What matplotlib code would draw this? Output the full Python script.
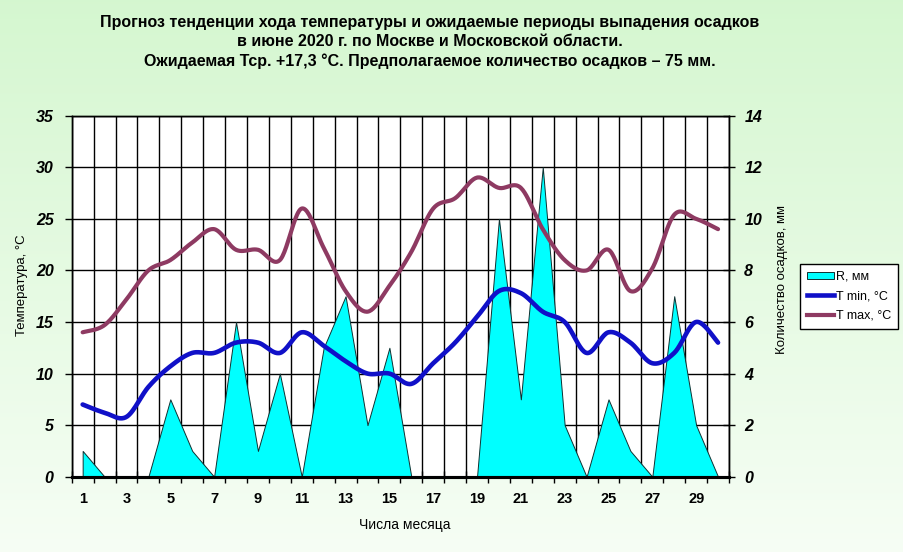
import numpy as np
import matplotlib
matplotlib.use("Agg")
import matplotlib.pyplot as plt
from matplotlib.lines import Line2D
from matplotlib.patches import Patch

# ---------------- data ----------------
days = list(range(1, 31))
precip_mm = [1, 0, 0, 0, 3, 1, 0, 6, 1, 4, 0, 5, 7, 2, 5, 0, 0, 0, 0, 10,
             3, 12, 2, 0, 3, 1, 0, 7, 2, 0]
t_min = [7, 6.2, 5.8, 8.7, 10.7, 12, 12, 13, 13, 12, 14, 12.7, 11.2, 10, 10,
         9, 11, 13, 15.5, 18, 17.8, 16, 15, 12, 14, 13, 11, 12, 15, 13]
t_max = [14, 14.7, 17.2, 20, 21, 22.7, 24, 22, 22, 21, 26, 22.2, 18, 16, 18.5,
         21.8, 26, 27, 29, 28, 28, 24, 21, 20, 22, 18, 20.2, 25.4, 25, 24]
x_label_days = list(range(1, 30, 2))
temp_ticks = list(range(0, 36, 5))
precip_ticks = list(range(0, 15, 2))

title_text = ("Прогноз тенденции хода температуры и ожидаемые периоды выпадения осадков\n"
              "в июне 2020 г. по Москве и Московской области.\n"
              "Ожидаемая Тср. +17,3 °С. Предполагаемое количество осадков – 75 мм.")
legend_labels = ["R, мм", "T min, °C", "T max, °C"]

NARROW = ["Liberation Sans Narrow", "Liberation Sans", "DejaVu Sans"]
ARIAL = ["Liberation Sans", "DejaVu Sans"]


def smooth(x, y, n=24):
    """Excel-like smoothed line (Bezier / Catmull-Rom through the points)."""
    x = np.asarray(x, float)
    y = np.asarray(y, float)
    px = np.concatenate([[x[0]], x, [x[-1]]])
    py = np.concatenate([[y[0]], y, [y[-1]]])
    xs, ys = [], []
    t = np.linspace(0, 1, n, endpoint=False)
    for i in range(1, len(px) - 2):
        p0 = np.array([px[i], py[i]])
        p3 = np.array([px[i + 1], py[i + 1]])
        p1 = p0 + (np.array([px[i + 1], py[i + 1]]) - np.array([px[i - 1], py[i - 1]])) / 6
        p2 = p3 - (np.array([px[i + 2], py[i + 2]]) - np.array([px[i], py[i]])) / 6
        b = ((1 - t) ** 3)[:, None] * p0 + (3 * (1 - t) ** 2 * t)[:, None] * p1 \
            + (3 * (1 - t) * t ** 2)[:, None] * p2 + (t ** 3)[:, None] * p3
        xs.extend(b[:, 0]); ys.extend(b[:, 1])
    xs.append(x[-1]); ys.append(y[-1])
    return np.array(xs), np.array(ys)


W, H = 904, 552
fig = plt.figure(figsize=(W / 100, H / 100), dpi=100)

# background gradient
bg = fig.add_axes([0, 0, 1, 1], zorder=-10)
grad = np.linspace(0, 1, 256)[:, None]
top = np.array([0.835, 0.968, 0.815])
bot = np.array([0.965, 0.995, 0.960])
img = top[None, None, :] * (1 - grad[..., None]) + bot[None, None, :] * grad[..., None]
img = np.repeat(img, 2, axis=1)
bg.imshow(img, aspect="auto", extent=[0, 1, 0, 1], origin="upper")
bg.set_axis_off()

L, R_, T_, B_ = 71.7, 729.0, 115.7, 476.7
rect = [L / W, 1 - B_ / H, (R_ - L) / W, (B_ - T_) / H]

# precipitation axes (bottom layer: grid + area)
axr = fig.add_axes(rect)
axr.set_facecolor("white")
axr.set_xlim(0.5, 30.5)
axr.set_ylim(0, 14)
axr.set_axisbelow(True)
axr.fill_between(days, precip_mm, 0, color="#00FFFF", edgecolor="#103030",
                 linewidth=0.7, zorder=2)

# temperature axes (top layer: lines)
axt = axr.twinx()
axt.set_ylim(0, 35)
axt.set_xlim(0.5, 30.5)
xs, ys = smooth(days, t_min)
axt.plot(xs, ys, color="#1010C8", lw=3.3, solid_capstyle="round", zorder=3)
xs, ys = smooth(days, t_max)
axt.plot(xs, ys, color="#8E3A62", lw=3.0, solid_capstyle="round", zorder=3)

# axis sides
axt.yaxis.set_ticks_position("left")
axt.yaxis.set_label_position("left")
axr.yaxis.set_ticks_position("right")
axr.yaxis.set_label_position("right")

# grid
axr.set_xticks([d + 0.5 for d in range(0, 31)], minor=True)
axr.set_xticks(x_label_days)
axr.set_xticklabels([str(d) for d in x_label_days], fontfamily=NARROW,
                    fontweight="bold", fontsize=10.5)
axr.tick_params(axis="x", which="major", length=0, pad=11)
axr.tick_params(axis="x", which="minor", length=8, width=1, direction="inout",
                color="black")
axr.grid(True, which="minor", axis="x", color="black", lw=1.0)
axr.set_yticks(precip_ticks)
axr.grid(True, which="major", axis="y", color="black", lw=1.0)
axr.set_yticklabels([str(v) for v in precip_ticks], fontfamily=ARIAL,
                    fontweight="bold", fontstyle="italic", fontsize=11.5)
axr.tick_params(axis="y", length=8, width=1, direction="inout", pad=7)

axt.set_yticks(temp_ticks)
axt.set_yticklabels([str(v) for v in temp_ticks], fontfamily=ARIAL,
                    fontweight="bold", fontstyle="italic", fontsize=11.5)
axt.tick_params(axis="y", length=5, width=1, direction="out", pad=8)

for ax in (axr, axt):
    for s in ax.spines.values():
        s.set_color("black")
        s.set_linewidth(1.0)
axr.spines["bottom"].set_linewidth(2.2)
axt.spines["bottom"].set_linewidth(2.2)

# labels
fig.text(430 / W, 1 - 42 / H, title_text, ha="center", va="center",
         fontfamily=NARROW, fontweight="bold", fontsize=11.5, linespacing=1.33)
fig.text(22 / W, 1 - 285 / H, "Температура, °С", rotation=90, ha="center",
         va="center", fontfamily=ARIAL, fontsize=9.5)
fig.text(782 / W, 1 - 280 / H, "Количество осадков, мм", rotation=90,
         ha="center", va="center", fontfamily=ARIAL, fontsize=9.5)
fig.text(405 / W, 1 - 525 / H, "Числа месяца", ha="center", va="center",
         fontfamily=NARROW, fontsize=10)

# legend
handles = [Patch(facecolor="#00FFFF", edgecolor="#103030", linewidth=0.7),
           Line2D([], [], color="#1010C8", lw=3.3),
           Line2D([], [], color="#8E3A62", lw=3.0)]
leg = fig.legend(handles, legend_labels, loc="upper left",
                 bbox_to_anchor=(800 / W, 1 - 264 / H), frameon=True,
                 fancybox=False, framealpha=1, edgecolor="black",
                 prop={"family": ARIAL, "size": 9}, handlelength=2.2,
                 handleheight=0.5, handletextpad=0.15, borderpad=0.55,
                 labelspacing=0.6, borderaxespad=0)
leg.get_frame().set_linewidth(1.0)

fig.savefig("out.png", dpi=100)
